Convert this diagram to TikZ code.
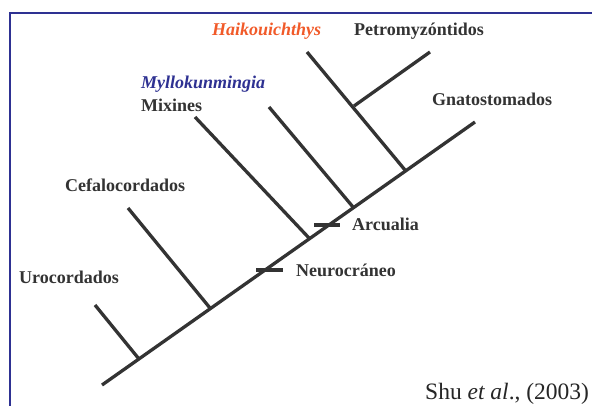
\documentclass[tikz,border=0pt]{standalone}
\usepackage{fontspec}
\setmainfont{Liberation Serif}
\definecolor{frameblue}{HTML}{2E3192}
\definecolor{branchgray}{HTML}{333333}
\definecolor{haikoucol}{HTML}{F15A29}
\definecolor{myllocol}{HTML}{2E3192}
\begin{document}
\begin{tikzpicture}[x=1pt,y=-1pt,
  branch/.style={draw=branchgray,line width=3.3pt},
  tick/.style={draw=branchgray,line width=3.3pt},
  taxon/.style={anchor=base west,inner sep=0pt,text=branchgray,
    font=\fontsize{18}{20}\selectfont\bfseries},
  fossil/.style={taxon,font=\fontsize{18}{20}\selectfont\bfseries\itshape},
  cite/.style={anchor=base west,inner sep=0pt,text=black!85,
    font=\fontsize{23.5}{26}\selectfont}]
\useasboundingbox (0,0) rectangle (592,405);
\fill[white] (0,0) rectangle (592,405);
% frame
\draw[frameblue,line width=2.2pt] (10,406) -- (10,13) -- (593,13);

% trunk and branch points
\coordinate (root) at (102,385);
\coordinate (gnato) at (475,122);
\coordinate (jUro) at (139,359);
\coordinate (jCefa) at (210,308);
\coordinate (jMix) at (309,238);
\coordinate (jMyl) at (353,207);
\coordinate (jHai) at (405,170);
\coordinate (jPet) at (354,106);
% tips
\coordinate (tUro) at (95,305);
\coordinate (tCefa) at (128,208);
\coordinate (tMix) at (195,117);
\coordinate (tMyl) at (269,107);
\coordinate (tHai) at (307,52);
\coordinate (tPet) at (430,52);
% character ticks
\coordinate (nA) at (256,270);
\coordinate (nB) at (283,270);
\coordinate (aA) at (314,225);
\coordinate (aB) at (340,225);

\draw[branch] (root) -- (gnato);
\draw[branch] (tUro) -- (jUro);
\draw[branch] (tCefa) -- (jCefa);
\draw[branch] (tMix) -- (jMix);
\draw[branch] (tMyl) -- (jMyl);
\draw[branch] (tHai) -- (jHai);
\draw[branch] (tPet) -- (jPet);
\draw[tick] (nA) -- (nB);
\draw[tick] (aA) -- (aB);

% labels
\node[taxon] (lUro) at (19,283) {Urocordados};
\node[taxon] (lCefa) at (65,191) {Cefalocordados};
\node[taxon] (lMix) at (141,111) {Mixines};
\node[fossil,text=myllocol] (lMyl) at (141,88) {Myllokunmingia};
\node[fossil,text=haikoucol] (lHai) at (212,35) {Haikouichthys};
\node[taxon] (lPet) at (354,35) {Petromyzóntidos};
\node[taxon] (lGna) at (432,105) {Gnatostomados};
\node[taxon] (lArc) at (352,230) {Arcualia};
\node[taxon] (lNeu) at (296,276) {Neurocráneo};
\node[cite] (lShu) at (425,399) {Shu \textit{et al}., (2003)};
\end{tikzpicture}
\end{document}
